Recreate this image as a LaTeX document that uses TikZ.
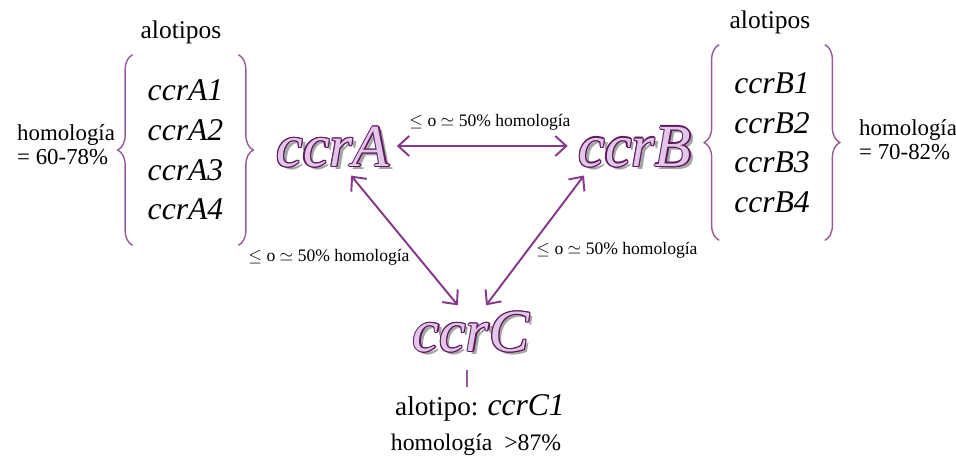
\documentclass[tikz,border=0pt]{standalone}
\usepackage{fontspec}
\setmainfont{Liberation Serif}
\usetikzlibrary{arrows.meta,decorations.pathreplacing}

\definecolor{arrowpurple}{RGB}{135,55,135}
\definecolor{bracepurple}{RGB}{150,90,150}
\definecolor{ccrfill}{RGB}{226,200,232}
\definecolor{ccredge}{RGB}{95,25,95}
\definecolor{ccrshade}{RGB}{165,165,165}

% one shifted copy of the gene name
\newcommand{\ccrlayer}[4]{%
  \makebox[0pt][l]{\hspace{#1}\raisebox{#2}{\color{#3}#4}}}
% big gene name: shadow, dark outline, light fill
\newcommand{\ccrbig}[1]{%
  \fontsize{34}{40}\selectfont\itshape
  \ccrlayer{2pt}{-2pt}{ccrshade}{#1}%
  \ccrlayer{0.7pt}{0pt}{ccredge}{#1}\ccrlayer{-0.7pt}{0pt}{ccredge}{#1}%
  \ccrlayer{0pt}{0.7pt}{ccredge}{#1}\ccrlayer{0pt}{-0.7pt}{ccredge}{#1}%
  \ccrlayer{0.5pt}{0.5pt}{ccredge}{#1}\ccrlayer{-0.5pt}{0.5pt}{ccredge}{#1}%
  \ccrlayer{0.5pt}{-0.5pt}{ccredge}{#1}\ccrlayer{-0.5pt}{-0.5pt}{ccredge}{#1}%
  \textcolor{ccrfill}{#1}}

\begin{document}
\begin{tikzpicture}[
    ccr/.style={inner sep=2pt},
    lista/.style={align=center, font=\fontsize{18}{22.5}\selectfont\itshape,
      minimum height=3.8cm, minimum width=2.1cm, inner sep=0pt},
    llave/.style={draw=bracepurple, line width=0.8pt, decorate,
      decoration={brace, amplitude=0.3cm}},
    flecha/.style={draw=arrowpurple, line width=1.1pt,
      {Straight Barb[length=2.2mm,width=4mm]}-{Straight Barb[length=2.2mm,width=4mm]}},
    nota/.style={font=\fontsize{10}{12}\selectfont},
    hom/.style={font=\fontsize{13}{13.7}\selectfont, align=left}]

  \useasboundingbox (0,0) rectangle (19.12,9.2);

  % genes
  \node[ccr] (ccrA) at (6.66,6.24) {\ccrbig{ccrA}};
  \node[ccr] (ccrB) at (12.70,6.24) {\ccrbig{ccrB}};
  \node[ccr] (ccrC) at (9.42,2.54) {\ccrbig{ccrC}};

  % allotypes A
  \node[lista] (listaA) at (3.71,6.20) {ccrA1\\ccrA2\\ccrA3\\ccrA4};
  \draw[llave] (listaA.south west) -- (listaA.north west);
  \draw[llave] (listaA.north east) -- (listaA.south east);
  \node[font=\fontsize{14.5}{16}\selectfont] (alotA) at (3.62,8.56) {alotipos};
  \node[hom, anchor=west] (homA) at (0.22,6.30) {homología\\= 60-78\%};

  % allotypes B
  \node[lista, minimum height=3.9cm] (listaB) at (15.44,6.35) {ccrB1\\ccrB2\\ccrB3\\ccrB4};
  \draw[llave] (listaB.south west) -- (listaB.north west);
  \draw[llave] (listaB.north east) -- (listaB.south east);
  \node[font=\fontsize{14.5}{16}\selectfont] (alotB) at (15.40,8.76) {alotipos};
  \node[hom, anchor=west] (homB) at (17.06,6.41) {homología\\= 70-82\%};

  % arrows between genes
  \draw[flecha, shorten <=2pt, shorten >=4pt]
    ([yshift=0.04cm]ccrA.east) -- ([yshift=0.04cm]ccrB.west);
  \draw[flecha, shorten <=1pt, shorten >=1pt]
    ([xshift=0.34cm]ccrA.south) -- ([xshift=-0.24cm]ccrC.north);
  \draw[flecha, shorten <=1pt, shorten >=1pt]
    ([xshift=-1.0cm]ccrB.south) -- ([xshift=0.28cm]ccrC.north);
  \node[nota] (notaAB) at (9.80,6.76) {$\leq$ o $\simeq$ 50\% homología};
  \node[nota] (notaAC) at (6.58,4.06) {$\leq$ o $\simeq$ 50\% homología};
  \node[nota] (notaBC) at (12.34,4.20) {$\leq$ o $\simeq$ 50\% homología};

  % allotype C
  \node[font=\fontsize{15.5}{18}\selectfont] (alotC) at (9.60,1.04)
    {alotipo: {\fontsize{18}{20}\selectfont\itshape ccrC1}};
  \node[font=\fontsize{13.5}{15}\selectfont] (homC) at (9.52,0.30) {homología\ \ >87\%};
  \draw[bracepurple, line width=0.8pt, shorten <=6pt, shorten >=1pt]
    ([xshift=-0.08cm]ccrC.south) -- ([xshift=-0.08cm]ccrC.south |- alotC.north);
\end{tikzpicture}
\end{document}
